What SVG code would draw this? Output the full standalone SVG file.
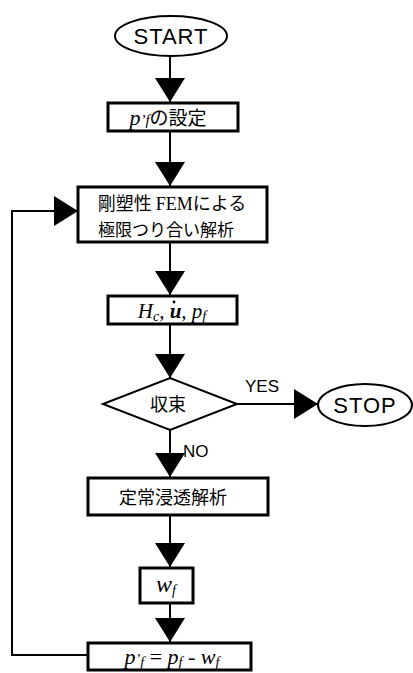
<svg xmlns="http://www.w3.org/2000/svg" width="413" height="673" viewBox="0 0 413 673">
<style>
.box{fill:#fff;stroke:#000;stroke-width:3}
.term{fill:#fff;stroke:#000;stroke-width:2}
.ln{fill:none;stroke:#000;stroke-width:2}
.sans{font-family:"Liberation Sans",Arial,sans-serif;fill:#000}
.jp{font-family:"Noto Sans CJK JP",sans-serif;fill:#000}
.math{font-family:"Liberation Serif","Times New Roman",serif;font-style:italic;fill:#000}
.mix{font-family:"Liberation Serif","Noto Sans CJK JP",serif;fill:#000}
</style>
<defs>
<marker id="ah" markerWidth="24" markerHeight="30" refX="24" refY="15" orient="auto" markerUnits="userSpaceOnUse" viewBox="0 0 24 30">
<path d="M0,0 L24,15 L0,30 Z" fill="#000"/>
</marker>
</defs>
<g id="connectors">
<line class="ln" x1="170" y1="56" x2="170" y2="102" marker-end="url(#ah)"/>
<line class="ln" x1="170" y1="131" x2="170" y2="186" marker-end="url(#ah)"/>
<line class="ln" x1="170" y1="243" x2="170" y2="295" marker-end="url(#ah)"/>
<line class="ln" x1="170" y1="325" x2="170" y2="378" marker-end="url(#ah)"/>
<line class="ln" x1="237" y1="404" x2="318" y2="404" marker-end="url(#ah)"/>
<line class="ln" x1="170" y1="430" x2="170" y2="477" marker-end="url(#ah)"/>
<line class="ln" x1="170" y1="516" x2="170" y2="567" marker-end="url(#ah)"/>
<line class="ln" x1="170" y1="604" x2="170" y2="642" marker-end="url(#ah)"/>
<polyline class="ln" points="88,655 12,655 12,211 78,211" marker-end="url(#ah)"/>
<text class="sans" x="262" y="392" font-size="17" text-anchor="middle">YES</text>
<text class="sans" x="183" y="457" font-size="17">NO</text>
</g>
<g id="start">
<ellipse class="term" cx="171" cy="36" rx="56" ry="20"/>
<text class="sans" x="171" y="44" font-size="22" letter-spacing="1" text-anchor="middle">START</text>
</g>
<g id="set-pf">
<rect class="box" x="108" y="103" width="130" height="28"/>
<text x="168" y="125" font-size="22" text-anchor="middle"><tspan class="math">p</tspan><tspan class="math" font-size="15">’f</tspan><tspan class="jp" font-size="19">の設定</tspan></text>
</g>
<g id="fem">
<rect class="box" x="78" y="187" width="189" height="55"/>
<text class="mix" x="172" y="210" font-size="18" text-anchor="middle"><tspan class="jp">剛塑性 </tspan>FEM<tspan class="jp">による</tspan></text>
<text class="jp" x="166" y="236" font-size="17" text-anchor="middle">極限つり合い解析</text>
</g>
<g id="result">
<rect class="box" x="108" y="296" width="129" height="28"/>
<text class="math" x="172" y="318" font-size="21" text-anchor="middle">H<tspan font-size="14" dy="3">c</tspan><tspan dy="-3">, </tspan><tspan font-weight="bold">u</tspan>, p<tspan font-size="14" dy="3">f</tspan></text>
<circle cx="174" cy="302" r="1.4" fill="#000"/>
</g>
<g id="converge">
<polygon class="ln" points="103,404 170,378 237,404 170,430" style="fill:#fff"/>
<text class="jp" x="168" y="411" font-size="18" text-anchor="middle">収束</text>
</g>
<g id="stop">
<ellipse class="term" cx="365" cy="405" rx="47" ry="21"/>
<text class="sans" x="365" y="413" font-size="22" letter-spacing="1" text-anchor="middle">STOP</text>
</g>
<g id="seepage">
<rect class="box" x="88" y="478" width="180" height="37"/>
<text class="jp" x="173" y="504" font-size="18" text-anchor="middle">定常浸透解析</text>
</g>
<g id="wf">
<rect class="box" x="140" y="568" width="53" height="35"/>
<text class="math" x="166" y="592" font-size="24" text-anchor="middle">w<tspan font-size="14" dy="3">f</tspan></text>
</g>
<g id="update">
<rect class="box" x="88" y="643" width="163" height="27"/>
<text class="math" x="172" y="664" font-size="22" text-anchor="middle">p<tspan font-size="14">’</tspan><tspan font-size="14" dy="3">f</tspan><tspan dy="-3" font-style="normal"> = </tspan>p<tspan font-size="14" dy="3">f</tspan><tspan dy="-3" font-style="normal"> - </tspan>w<tspan font-size="14" dy="3">f</tspan></text>
</g>
</svg>
